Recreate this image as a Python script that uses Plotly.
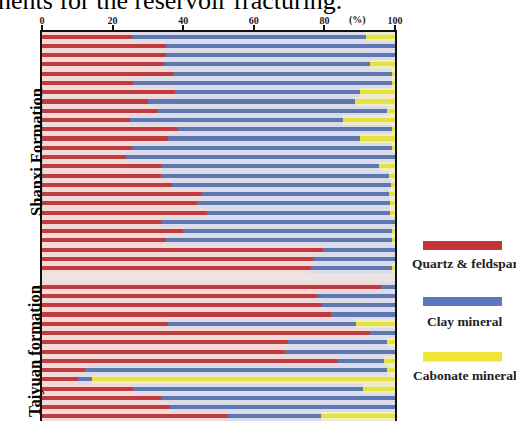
import plotly.graph_objects as go

# ---------------- data (percent) ----------------
shanxi_quartz = [25.4, 35.0, 35.0, 34.6, 37.0, 25.7, 37.7, 30.1, 32.7, 24.9, 38.3, 35.8, 25.5,
                 23.8, 33.6, 33.6, 36.7, 44.9, 43.8, 46.6, 33.6, 40.0, 35.0, 79.6, 76.8, 76.3]
shanxi_clay = [66.4, 65.0, 65.0, 58.2, 62.2, 73.5, 52.3, 58.6, 65.1, 60.5, 60.9, 54.2, 73.7,
               76.2, 62.0, 64.6, 62.3, 53.3, 54.9, 52.0, 66.4, 59.2, 64.2, 20.4, 23.2, 22.9]
shanxi_carbonate = [8.2, 0.0, 0.0, 7.2, 0.8, 0.8, 10.0, 11.3, 2.2, 14.6, 0.8, 10.0, 0.8,
                    0.0, 4.4, 1.8, 1.0, 1.8, 1.3, 1.4, 0.0, 0.8, 0.8, 0.0, 0.0, 0.8]

taiyuan_quartz = [95.9, 77.9, 79.4, 81.9, 35.8, 92.8, 69.8, 68.7, 83.6, 12.2, 10.3, 25.7, 33.8, 36.2, 52.8]
taiyuan_clay = [4.1, 22.1, 20.6, 18.1, 53.2, 7.2, 28.0, 31.3, 13.4, 85.6, 4.0, 65.2, 66.2, 63.8, 26.3]
taiyuan_carbonate = [0.0, 0.0, 0.0, 0.0, 11.0, 0.0, 2.2, 0.0, 3.0, 2.2, 85.7, 9.1, 0.0, 0.0, 20.9]

tick_vals = [0, 20, 40, 60, 80, 100]
tick_text = ["0", "20", "40", "60", "80", "100"]
series_names = ["Quartz & feldspar", "Clay mineral", "Cabonate mineral"]
formation_names = ["Shanxi Formation", "Taiyuan formation"]

# ---------------- assemble rows (one empty slot between formations) ----------------
quartz = shanxi_quartz + [None] + taiyuan_quartz
clay = shanxi_clay + [None] + taiyuan_clay
carb = shanxi_carbonate + [None] + taiyuan_carbonate
rows = list(range(len(quartz)))

base_q = [0 if q is not None else None for q in quartz]
base_clay = [q if q is not None else None for q in quartz]
base_carb = [(q + c) if q is not None else None for q, c in zip(quartz, clay)]

dark = ["#BE3B42", "#5E77AE", "#E4E23E"]
tint = ["#F2DBD6", "#DADCEB", "#EEEBC6"]
legend_cols = ["#C8323A", "#5A78BE", "#EFE636"]

fig = go.Figure()
segments = [(quartz, base_q), (clay, base_clay), (carb, base_carb)]

for width, cols in ((1.0, tint), (0.44, dark)):
    for (vals, base), col, name in zip(segments, cols, series_names):
        fig.add_trace(go.Bar(
            y=rows, x=vals, base=base, orientation="h", width=width,
            marker=dict(color=col, line=dict(width=0)), name=name,
            showlegend=False, hoverinfo="skip"))

SERIF = "Liberation Serif"
L, T, W, H = 42, 32, 353, 389

def px(x):
    return (x - L) / W

def py(y):
    return 1 - (y - T) / H

fig.update_layout(
    width=516, height=421,
    margin=dict(l=L, r=516 - L - W, t=T, b=0),
    paper_bgcolor="white", plot_bgcolor="#ECE4E2",
    barmode="overlay", bargap=0,
    font=dict(family=SERIF, color="black"),
    xaxis=dict(side="top", range=[0, 100], tickvals=tick_vals, ticktext=tick_text,
               showgrid=False, zeroline=False, showline=True, linecolor="#111", linewidth=2,
               ticks="outside", ticklen=5, tickwidth=1.5, tickcolor="#111", ticklabelstandoff=-3,
               tickfont=dict(family=SERIF, size=10, weight="bold", color="#222")),
    yaxis=dict(range=[len(rows) - 0.5, -0.5], showticklabels=False, showgrid=False,
               zeroline=False, showline=True, mirror=True, linecolor="#111", linewidth=2,
               ticks=""),
)

ann = []
ann.append(dict(text="(%)", xref="x", x=89.5, yref="paper", y=py(20), yanchor="middle",
                showarrow=False, font=dict(family=SERIF, size=10, weight="bold", color="#222")))
ann.append(dict(text="nents for the reservoir fracturing.", xref="paper", x=px(344), xanchor="right",
                yref="paper", y=py(1), yanchor="middle", showarrow=False,
                font=dict(family=SERIF, size=26, color="black")))
ann.append(dict(text=formation_names[0], xref="paper", x=px(25), yref="y", y=12.5,
                textangle=-90, showarrow=False, font=dict(family=SERIF, size=16.5, weight="bold")))
ann.append(dict(text=formation_names[1], xref="paper", x=px(23), yref="y", y=34,
                textangle=-90, showarrow=False, font=dict(family=SERIF, size=16.5, weight="bold")))

shapes = []
sw = [(241, 250, 263.5), (297, 306, 321.5), (352, 361.5, 375)]
for (y0, y1, ly), col, name in zip(sw, legend_cols, series_names):
    shapes.append(dict(type="rect", xref="paper", yref="paper", x0=px(423), x1=px(502),
                       y0=py(y1), y1=py(y0), fillcolor=col, line=dict(width=0), layer="above"))
    ann.append(dict(text=name, xref="paper", x=px(464.5), yref="paper", y=py(ly),
                    xanchor="center", yanchor="middle", showarrow=False,
                    font=dict(family=SERIF, size=13.5, weight="bold", color="#222")))

fig.update_layout(annotations=ann, shapes=shapes)
fig.write_html("out.html", config={"displayModeBar": False},
               post_script="document.body.style.margin='0';document.body.style.padding='0';")
